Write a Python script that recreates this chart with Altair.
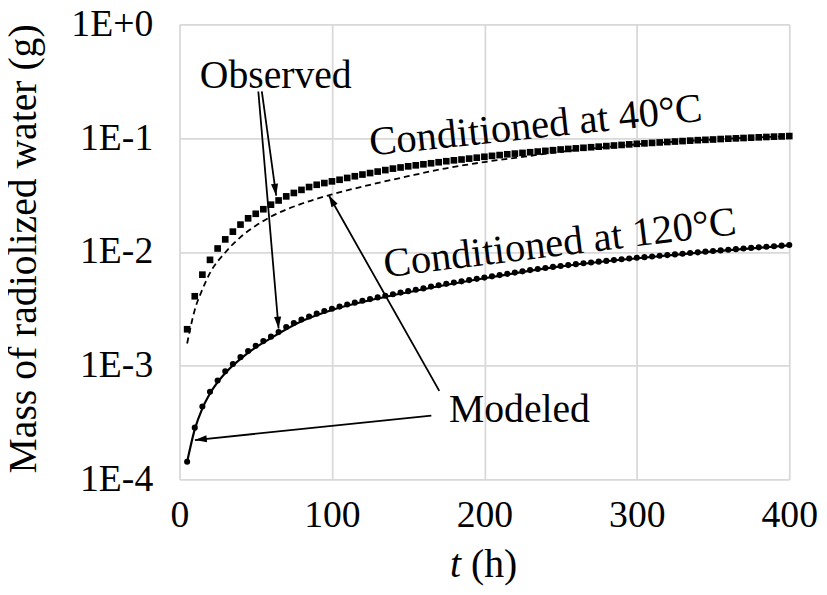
import math
import altair as alt
import pandas as pd

# ---------------- data ----------------
t_obs = list(range(5, 405, 5))  # observation times (h)

# log10 of observed mass (g), conditioned at 40 C (squares)
obs40_log10 = [
    -2.68, -2.39, -2.20, -2.07, -1.97, -1.89, -1.822, -1.76, -1.705, -1.665,
    -1.625, -1.585, -1.548, -1.512, -1.482, -1.455, -1.43, -1.41, -1.395, -1.38,
    -1.366, -1.35, -1.335, -1.32, -1.307, -1.294, -1.281, -1.268, -1.258, -1.248,
    -1.239, -1.23, -1.221, -1.212, -1.203, -1.195, -1.188, -1.18, -1.172, -1.164,
    -1.156, -1.149, -1.142, -1.136, -1.13, -1.124, -1.118, -1.112, -1.106, -1.10,
    -1.095, -1.09, -1.085, -1.08, -1.075, -1.07, -1.065, -1.06, -1.055, -1.05,
    -1.046, -1.042, -1.038, -1.034, -1.03, -1.026, -1.022, -1.018, -1.015, -1.012,
    -1.008, -1.005, -1.002, -0.999, -0.996, -0.993, -0.99, -0.987, -0.985, -0.982,
]

# log10 of observed mass (g), conditioned at 120 C (circles)
obs120_log10 = [
    -3.845, -3.545, -3.36, -3.23, -3.13, -3.05, -2.985, -2.925, -2.872, -2.826,
    -2.784, -2.745, -2.705, -2.66, -2.625, -2.595, -2.568, -2.543, -2.52, -2.50,
    -2.481, -2.463, -2.446, -2.43, -2.415, -2.40, -2.386, -2.372, -2.358, -2.345,
    -2.333, -2.321, -2.305, -2.293, -2.281, -2.27, -2.259, -2.248, -2.237, -2.226,
    -2.215, -2.204, -2.193, -2.182, -2.171, -2.160, -2.150, -2.141, -2.132, -2.124,
    -2.116, -2.108, -2.100, -2.093, -2.086, -2.079, -2.072, -2.065, -2.058, -2.052,
    -2.046, -2.040, -2.034, -2.028, -2.022, -2.016, -2.010, -2.004, -1.998, -1.992,
    -1.987, -1.981, -1.976, -1.970, -1.965, -1.960, -1.955, -1.950, -1.945, -1.940,
]

# modeled curves (log10 of mass, g)
t_mod40 = [5, 10, 15, 20, 30, 40, 50, 60, 80, 100, 125, 150, 175, 200, 225, 250, 275, 300, 350, 400]
mod40_log10 = [-2.805, -2.51, -2.33, -2.185, -2.005, -1.87, -1.77, -1.69, -1.577, -1.495,
               -1.41, -1.335, -1.265, -1.21, -1.165, -1.12, -1.085, -1.055, -1.012, -0.982]

t_mod120 = [5, 10, 15, 20, 30, 40, 50, 60, 80, 100, 130, 160, 200, 250, 300, 350, 400]
mod120_log10 = [-3.845, -3.56, -3.375, -3.245, -3.065, -2.94, -2.84, -2.758, -2.61, -2.51,
                -2.41, -2.328, -2.232, -2.128, -2.056, -1.996, -1.943]

x_ticks = [0, 100, 200, 300, 400]
y_ticks = [1e-4, 1e-3, 1e-2, 1e-1, 1]

# annotations (data coordinates)
label_text = ["Observed", "Modeled", "Conditioned at 40°C", "Conditioned at 120°C"]
label_t = [63.1, 223.0, 234.5, 250.5]
label_m = [0.274, 3.22e-4, 0.100, 0.00929]
label_rot = [0, 0, 354, 353]
label_size = [40, 40, 41, 41]

arrow_t1 = [54.0, 51.7, 170.4, 165.2]
arrow_m1 = [0.257, 0.257, 6.0e-4, 3.63e-4]
arrow_t2 = [63.4, 65.0, 97.9, 10.1]
arrow_m2 = [0.0312, 0.00212, 0.0315, 2.22e-4]

# ---------------- layout ----------------
W, H = 615, 459
FONT = "Liberation Serif"

def px(t):
    return t / 400.0 * W

def py(m):
    return -math.log10(m) / 4.0 * H

arrow_ang = []
for a, b, c, d in zip(arrow_t1, arrow_m1, arrow_t2, arrow_m2):
    dx = px(c) - px(a)
    dy = py(d) - py(b)
    arrow_ang.append(math.degrees(math.atan2(dx, -dy)) % 360)

obs = pd.DataFrame({
    "t": t_obs + t_obs,
    "m": [10 ** v for v in obs40_log10] + [10 ** v for v in obs120_log10],
    "series": ["40"] * len(t_obs) + ["120"] * len(t_obs),
})
mod40 = pd.DataFrame({"t": t_mod40, "m": [10 ** v for v in mod40_log10]})
mod120 = pd.DataFrame({"t": t_mod120, "m": [10 ** v for v in mod120_log10]})
labels = pd.DataFrame({"text": label_text, "t": label_t, "m": label_m,
                       "rot": label_rot, "fs": label_size})
arrows = pd.DataFrame({"t": arrow_t1, "m": arrow_m1, "t2": arrow_t2, "m2": arrow_m2, "ang": arrow_ang})
heads = pd.DataFrame({"t": arrow_t2, "m": arrow_m2, "ang": arrow_ang})

xs = alt.Scale(domain=[0, 400], nice=False, zero=False)
ys = alt.Scale(type="log", domain=[1e-4, 1], nice=False)

x_axis = alt.Axis(values=x_ticks, title=None, grid=True, gridColor="#d9d9d9", gridWidth=1.8,
                  domain=False, ticks=False, labelFont=FONT, labelFontSize=38, labelColor="black",
                  labelPadding=17, labelFlush=False, labelOverlap=False)
y_axis = alt.Axis(values=y_ticks, title="Mass of radiolized water (g)", grid=True, gridColor="#d9d9d9",
                  gridWidth=1.8, domain=False, ticks=False, labelFont=FONT, labelFontSize=38,
                  labelColor="black", labelPadding=27, labelFlush=False, labelOverlap=False,
                  labelExpr="datum.value >= 1 ? '1E+0' : '1E' + round(log(datum.value) / LN10)",
                  titleFont=FONT, titleFontSize=40, titleFontWeight="normal", titleColor="black",
                  titleX=-145, titleY=226, titleBaseline="alphabetic", titleAngle=270)

X = alt.X("t:Q", scale=xs, axis=x_axis)
Y = alt.Y("m:Q", scale=ys, axis=y_axis)

line40 = alt.Chart(mod40).mark_line(color="black", strokeWidth=1.8, strokeDash=[6, 4],
                                    interpolate="monotone").encode(x=X, y=Y)
line120 = alt.Chart(mod120).mark_line(color="black", strokeWidth=2.2,
                                      interpolate="monotone").encode(x=X, y=Y)
sq = alt.Chart(obs).transform_filter("datum.series == '40'").mark_point(
    shape="square", filled=True, size=45, color="black", opacity=1, strokeWidth=0).encode(x=X, y=Y)
ci = alt.Chart(obs).transform_filter("datum.series == '120'").mark_point(
    shape="circle", filled=True, size=38, color="black", opacity=1, strokeWidth=0).encode(x=X, y=Y)

rules = alt.Chart(arrows).mark_rule(color="black", strokeWidth=1.8).encode(
    x=X, y=Y, x2="t2:Q", y2="m2:Q")
arrowheads = alt.Chart(heads).mark_point(
    shape="M0,0L0.6,2L-0.6,2Z", filled=True, size=144, color="black", opacity=1, strokeWidth=0
).encode(x=X, y=Y, angle=alt.Angle("ang:Q", scale=None))

texts = alt.Chart(labels).mark_text(font=FONT, color="black", align="center",
                                    baseline="alphabetic").encode(
    x=X, y=Y, text="text:N", angle=alt.Angle("rot:Q", scale=None),
    size=alt.Size("fs:Q", scale=None))

title_df = pd.DataFrame({"a": ["t"], "b": ["(h)"]})
xt1 = alt.Chart(title_df).mark_text(font=FONT, fontSize=40, fontStyle="italic", color="black",
                                    align="right", baseline="alphabetic").encode(
    x=alt.value(284), y=alt.value(557), text="a:N")
xt2 = alt.Chart(title_df).mark_text(font=FONT, fontSize=40, color="black",
                                    align="left", baseline="alphabetic").encode(
    x=alt.value(294), y=alt.value(557), text="b:N")

chart = alt.layer(line40, line120, sq, ci, rules, arrowheads, texts, xt1, xt2).properties(
    width=W, height=H,
    autosize=alt.AutoSizeParams(type="none"),
    padding={"left": 173, "top": 14, "right": 30, "bottom": 106},
    background="white",
).configure_view(stroke=None)

chart.save("out.html", embed_options={"renderer": "svg", "actions": False})
